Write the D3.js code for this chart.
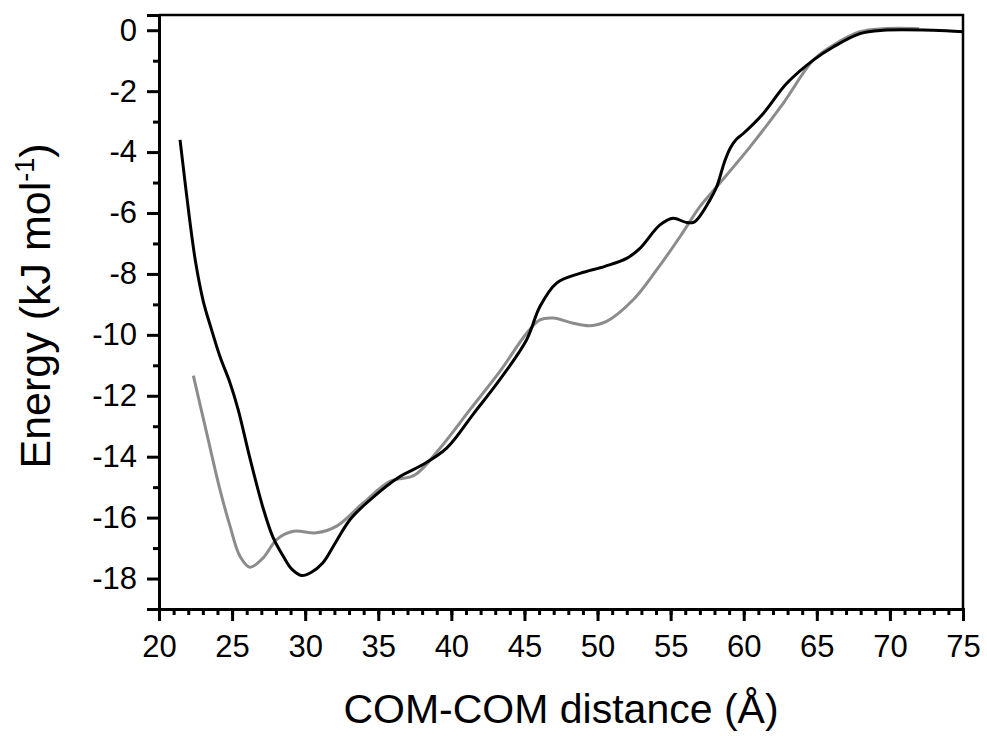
<!DOCTYPE html>
<html>
<head>
<meta charset="utf-8">
<script src="https://cdn.jsdelivr.net/npm/d3@7"></script>
<style>
  body { margin: 0; background: #fff; }
  svg { display: block; font-family: "Liberation Sans", Arial, sans-serif; }
</style>
</head>
<body>
<div id="chart"></div>
<script>
// black curve
const blackX = [21.44, 22.1, 22.5, 23.03, 23.6, 24.17, 24.86, 25.42, 26.22, 27.13, 27.8, 28.5, 29.1, 29.76, 30.4, 31.2, 32.1, 33.06, 34.2, 36.48, 37.9, 39.68, 41.5, 43.3, 45.15, 46.06, 47.2, 48.8, 50.5, 51.99, 52.9, 54.27, 55.18, 56.0, 56.6, 57.69, 58.15, 58.7, 59.1, 59.5, 59.97, 61.34, 62.93, 64.76, 66.12, 67.95, 69.54, 72.96, 75];
const blackY = [-3.6, -6.23, -7.6, -8.9, -9.84, -10.71, -11.58, -12.46, -14.05, -15.7, -16.65, -17.27, -17.7, -17.9, -17.8, -17.49, -16.8, -16.07, -15.52, -14.65, -14.3, -13.72, -12.6, -11.48, -10.16, -9.07, -8.3, -7.98, -7.75, -7.49, -7.16, -6.39, -6.17, -6.3, -6.3, -5.57, -5.14, -4.3, -3.85, -3.58, -3.39, -2.73, -1.75, -0.98, -0.55, -0.11, 0, 0, -0.05];

// grey curve
const greyX = [22.35, 23.26, 24.17, 24.86, 25.54, 26.22, 27.13, 28.05, 29.19, 30.78, 32.15, 33.97, 35.8, 37.5, 39.22, 41.3, 43.32, 45.15, 46.06, 46.97, 48.34, 49.48, 50.62, 52.44, 54.04, 55.64, 57.0, 58.15, 60.43, 62.7, 64.76, 66.12, 67.95, 69.54, 72];
const greyY = [-11.34, -13.22, -15.08, -16.28, -17.27, -17.63, -17.32, -16.72, -16.45, -16.5, -16.28, -15.52, -14.81, -14.6, -13.72, -12.44, -11.2, -9.95, -9.51, -9.45, -9.62, -9.7, -9.56, -8.85, -7.87, -6.78, -5.79, -5.14, -3.83, -2.4, -0.98, -0.49, -0.05, 0.05, 0.05];

const xTicks = [20, 25, 30, 35, 40, 45, 50, 55, 60, 65, 70, 75];
const yTicks = [0, -2, -4, -6, -8, -10, -12, -14, -16, -18];

const width = 987, height = 736;
const margin = { top: 15, right: 24, bottom: 127, left: 159 };

const svg = d3.select('#chart').append('svg')
  .attr('width', width).attr('height', height);

const x = d3.scaleLinear().domain([20, 75]).range([margin.left, width - margin.right]);
const y = d3.scaleLinear().domain([-19, 0.5]).range([height - margin.bottom, margin.top]);

const toPoints = (xs, ys) => xs.map((v, i) => [v, ys[i]]);
const line = d3.line().x(d => x(d[0])).y(d => y(d[1])).curve(d3.curveCatmullRom.alpha(0.5));

svg.append('path').datum(toPoints(greyX, greyY))
  .attr('fill', 'none').attr('stroke', '#8c8c8c').attr('stroke-width', 3)
  .attr('d', line);
svg.append('path').datum(toPoints(blackX, blackY))
  .attr('fill', 'none').attr('stroke', '#000').attr('stroke-width', 3)
  .attr('d', line);

// frame (top and right)
svg.append('path')
  .attr('d', `M${x(20)},${y(0.5)}H${x(75)}V${y(-19)}`)
  .attr('fill', 'none').attr('stroke', '#000').attr('stroke-width', 2.5);

// minor ticks
const xMinor = d3.range(20, 76, 1);
const yMinor = d3.range(-19, 1, 1).filter(v => v % 2 !== 0);

const gx = svg.append('g').attr('transform', `translate(0,${y(-19)})`)
  .call(d3.axisBottom(x).tickValues(xMinor).tickSize(6).tickFormat(''));
const gxMaj = svg.append('g').attr('transform', `translate(0,${y(-19)})`)
  .call(d3.axisBottom(x).tickValues(xTicks).tickSize(12).tickPadding(14).tickFormat(d3.format('d')));

const gy = svg.append('g').attr('transform', `translate(${x(20)},0)`)
  .call(d3.axisLeft(y).tickValues(yMinor).tickSize(6).tickFormat(''));
const gyMaj = svg.append('g').attr('transform', `translate(${x(20)},0)`)
  .call(d3.axisLeft(y).tickValues(yTicks).tickSize(12).tickPadding(10).tickFormat(d => d3.format('d')(d).replace('−', '-')));

[gx, gy, gxMaj, gyMaj].forEach(g => {
  g.select('.domain').attr('stroke-width', 3);
  g.selectAll('.tick line').attr('stroke-width', 3);
  g.selectAll('text').attr('font-size', 31).attr('fill', '#000').attr('font-family', '"Liberation Sans", Arial, sans-serif');
});
gx.select('.domain').remove();
gy.select('.domain').remove();

// axis titles
svg.append('text')
  .attr('x', (x(20) + x(75)) / 2).attr('y', 723)
  .attr('text-anchor', 'middle').attr('font-size', 41)
  .text('COM-COM distance (Å)');

const yTitle = svg.append('text')
  .attr('transform', 'translate(50,306) rotate(-90)')
  .attr('text-anchor', 'middle').attr('font-size', 43);
yTitle.append('tspan').text('Energy (kJ mol');
yTitle.append('tspan').attr('font-size', 27).attr('dy', -16).text('-1');
yTitle.append('tspan').attr('dy', 16).text(')');
</script>
</body>
</html>
